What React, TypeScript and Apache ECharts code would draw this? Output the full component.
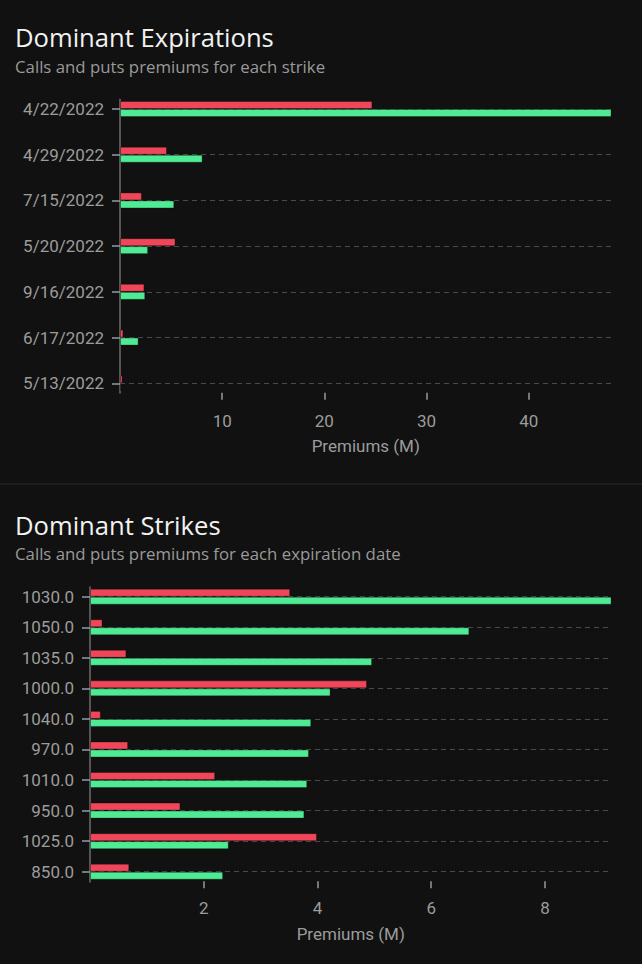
import React, { useEffect, useRef } from 'react';
import * as echarts from 'echarts';

const expirations = ['4/22/2022', '4/29/2022', '7/15/2022', '5/20/2022', '9/16/2022', '6/17/2022', '5/13/2022'];
const expPuts = [24.7, 4.6, 2.14, 5.43, 2.39, 0.33, 0.25];
const expCalls = [48.1, 8.08, 5.31, 2.75, 2.47, 1.82, 0.08];
const expTicks = [10, 20, 30, 40];

const strikes = ['1030.0', '1050.0', '1035.0', '1000.0', '1040.0', '970.0', '1010.0', '950.0', '1025.0', '850.0'];
const strikePuts = [3.52, 0.22, 0.64, 4.87, 0.19, 0.67, 2.2, 1.59, 3.99, 0.69];
const strikeCalls = [9.17, 6.67, 4.96, 4.23, 3.89, 3.85, 3.82, 3.77, 2.44, 2.34];
const strikeTicks = [2, 4, 6, 8];

const titles = ['Dominant Expirations', 'Dominant Strikes'];
const subtitles = ['Calls and puts premiums for each strike', 'Calls and puts premiums for each expiration date'];
const axisName = 'Premiums (M)';

const BG = '#111111';
const RED = '#ef4759';
const GREEN = '#4feb94';
const LABEL = '#9c9c9c';
const TICK = '#8e9dab';
const AXIS_FONT = 'Roboto';
const TITLE_FONT = 'Open Sans';

function valueAxis(grid: number, ticks: number[], offset: number, margin: number, nameGap: number) {
  return {
    gridIndex: grid,
    type: 'value',
    min: 0,
    max: 'dataMax',
    offset,
    axisLine: { show: false },
    axisTick: { show: true, length: 7, customValues: ticks, lineStyle: { color: TICK, width: 1.5 } },
    axisLabel: { customValues: ticks, color: LABEL, fontSize: 17, fontFamily: AXIS_FONT, margin },
    splitLine: { show: false },
    name: axisName,
    nameLocation: 'middle',
    nameGap,
    nameTextStyle: { color: LABEL, fontSize: 17, fontFamily: AXIS_FONT },
  };
}

function catAxis(grid: number, data: string[]) {
  return {
    gridIndex: grid,
    type: 'category',
    data,
    inverse: true,
    boundaryGap: false,
    axisLine: { show: false },
    axisTick: { show: true, length: 8, lineStyle: { color: TICK, width: 1.5 } },
    axisLabel: { color: LABEL, fontSize: 17, fontFamily: AXIS_FONT, margin: 16 },
    splitLine: { show: true, lineStyle: { color: '#4a4a4a', type: [5, 4], width: 1 } },
  };
}

function lineAxisX(grid: number) {
  return { gridIndex: grid, type: 'value', min: 0, max: 1, show: false };
}

function lineAxisY(grid: number) {
  return {
    gridIndex: grid,
    type: 'value',
    min: 0,
    max: 1,
    axisLine: { show: true, onZero: false, lineStyle: { color: '#555555', width: 2 } },
    axisTick: { show: false },
    axisLabel: { show: false },
    splitLine: { show: false },
  };
}

function barSeries(xi: number, yi: number, data: number[], color: string) {
  return {
    type: 'bar',
    xAxisIndex: xi,
    yAxisIndex: yi,
    data,
    barWidth: 8,
    barGap: '0%',
    itemStyle: { color, borderColor: 'rgba(0,0,0,0.3)', borderWidth: 1 },
  };
}

function titleText(text: string, y: number, size: number, color: string) {
  return {
    type: 'text',
    x: 15,
    y,
    style: { text, fill: color, fontSize: size, fontFamily: TITLE_FONT, verticalAlign: 'middle', align: 'left' },
  };
}

export default function App() {
  const ref = useRef<HTMLDivElement>(null);
  useEffect(() => {
    document.body.style.margin = '0';
    document.body.style.background = BG;
    const chart = echarts.init(ref.current!, null, { renderer: 'svg' });
    chart.setOption({
      animation: false,
      backgroundColor: BG,
      graphic: [
        titleText(titles[0], 37, 25.6, '#f2f2f2'),
        titleText(subtitles[0], 66.5, 16.8, '#9a9a9a'),
        { type: 'rect', shape: { x: 0, y: 483, width: 642, height: 2 }, style: { fill: '#1d1d1d' } },
        titleText(titles[1], 525.5, 25.6, '#f2f2f2'),
        titleText(subtitles[1], 553.7, 16.8, '#9a9a9a'),
      ],
      grid: [
        { left: 120, right: 30.5, top: 109, height: 274.3 },
        { left: 120, right: 30.5, top: 99.5, height: 293.2 },
        { left: 90, right: 30.5, top: 596.7, height: 275 },
        { left: 90, right: 30.5, top: 587.2, height: 294.5 },
      ],
      xAxis: [
        valueAxis(0, expTicks, 9.4, 19.5, 44.6),
        lineAxisX(1),
        valueAxis(2, strikeTicks, 9.5, 18.7, 44.4),
        lineAxisX(3),
      ],
      yAxis: [catAxis(0, expirations), lineAxisY(1), catAxis(2, strikes), lineAxisY(3)],
      series: [
        barSeries(0, 0, expPuts, RED),
        barSeries(0, 0, expCalls, GREEN),
        barSeries(2, 2, strikePuts, RED),
        barSeries(2, 2, strikeCalls, GREEN),
      ],
    });
    return () => chart.dispose();
  }, []);
  return <div ref={ref} style={{ width: 642, height: 964, background: BG }} />;
}
